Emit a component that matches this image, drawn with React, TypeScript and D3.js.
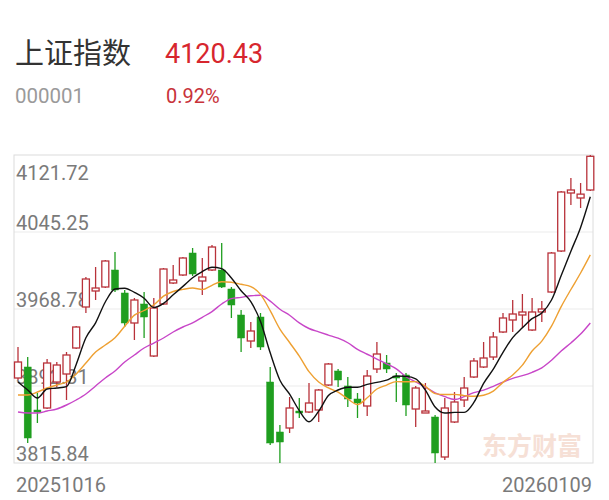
import React from 'react';
import * as d3 from 'd3';

const TITLE = '上证指数';
const CODE = '000001';
const LAST = '4120.43';
const CHANGE = '0.92%';
const WATERMARK = '东方财富';
const DATE_LABELS = ['20251016', '20260109'];
const Y_TICKS = [4121.72, 4045.25, 3968.78, 3892.31, 3815.84];

const OPEN = [3900.25, 3911.18, 3868.47, 3870.46, 3896.28, 3904.23, 3930.05, 3970.77, 3986.66, 3990.63,
  4007.51, 3984.67, 3954.88, 3973.75, 3922.10, 3973.75, 3994.60, 4002.55, 4024.39, 3996.59,
  4007.51, 4007.51, 3988.64, 3962.82, 3937.00, 3960.83, 3896.28, 3846.63, 3850.60, 3867.48,
  3866.49, 3868.47, 3893.30, 3907.21, 3892.31, 3879.40, 3872.45, 3909.19, 3915.15, 3902.24,
  3903.23, 3869.47, 3865.50, 3861.52, 3821.80, 3856.56, 3878.41, 3901.25, 3911.18, 3921.11,
  3945.94, 3957.86, 3962.82, 3947.92, 3965.80, 3985.66, 4026.38, 4083.98, 4079.02, 4086.96];
const HIGH = [3931.04, 3921.11, 3885.36, 3919.12, 3916.14, 3926.08, 3951.90, 4000.56, 4010.49, 4017.44,
  4025.39, 3987.65, 3979.70, 3985.66, 3979.70, 4009.50, 4012.48, 4020.42, 4029.36, 4019.43,
  4032.34, 4034.33, 3990.63, 3967.79, 3955.87, 3964.81, 3911.18, 3853.58, 3881.38, 3880.39,
  3895.29, 3889.33, 3915.15, 3909.19, 3901.25, 3885.36, 3908.20, 3936.01, 3923.10, 3905.22,
  3905.22, 3892.31, 3895.29, 3863.51, 3880.39, 3886.35, 3901.25, 3920.12, 3936.01, 3945.94,
  3964.81, 3977.72, 3983.68, 3979.70, 3976.72, 4025.39, 4085.97, 4098.88, 4093.91, 4121.72];
const LOW = [3898.27, 3835.70, 3855.56, 3869.47, 3891.32, 3878.41, 3929.05, 3964.81, 3977.72, 3989.64,
  3985.66, 3950.90, 3937.99, 3939.98, 3921.11, 3972.75, 3993.61, 4001.55, 4001.55, 3982.68,
  4006.52, 3989.64, 3959.84, 3926.08, 3930.05, 3928.06, 3833.72, 3815.84, 3845.63, 3860.53,
  3865.50, 3856.56, 3892.31, 3891.32, 3871.45, 3860.53, 3862.52, 3905.22, 3905.22, 3876.42,
  3862.52, 3851.59, 3865.50, 3815.84, 3818.82, 3855.56, 3871.45, 3900.25, 3910.19, 3918.13,
  3944.94, 3945.94, 3949.91, 3946.93, 3955.87, 3984.67, 4025.39, 4072.06, 4069.08, 4085.97];
const CLOSE = [3916.14, 3840.67, 3866.49, 3915.15, 3913.16, 3923.10, 3950.90, 3998.57, 3989.64, 4016.45,
  3987.65, 3954.88, 3977.72, 3960.83, 3969.77, 4008.50, 3997.58, 4019.43, 4003.54, 4000.56,
  4030.35, 3990.63, 3972.75, 3939.98, 3946.93, 3931.04, 3835.70, 3836.69, 3870.46, 3865.50,
  3875.43, 3888.34, 3914.16, 3898.27, 3879.40, 3875.43, 3902.24, 3924.09, 3909.19, 3900.25,
  3873.44, 3890.32, 3867.48, 3825.77, 3870.46, 3876.42, 3890.32, 3917.14, 3920.12, 3940.97,
  3959.84, 3963.81, 3965.80, 3965.80, 3968.78, 4024.39, 4084.97, 4086.96, 4082.87, 4120.43];

const MA5 = [3896.28, 3888.34, 3880.39, 3889.33, 3890.32, 3891.71, 3913.76, 3940.18, 3955.07, 3975.73,
  3988.64, 3989.44, 3985.27, 3979.51, 3970.17, 3974.34, 3982.88, 3991.22, 3999.76, 4005.92,
  4010.29, 4008.90, 3999.57, 3986.85, 3976.13, 3956.27, 3925.28, 3898.07, 3884.17, 3867.88,
  3856.76, 3867.28, 3882.78, 3888.34, 3891.12, 3891.12, 3893.90, 3895.88, 3898.07, 3902.24,
  3901.84, 3899.46, 3888.14, 3871.45, 3865.50, 3866.09, 3866.09, 3876.02, 3894.89, 3908.99,
  3925.68, 3940.38, 3950.11, 3959.25, 3964.81, 3977.72, 4001.95, 4026.18, 4049.82, 4080.21];
const MA10 = [3883.37, 3883.37, 3886.35, 3890.32, 3893.30, 3896.28, 3904.23, 3915.15, 3926.08, 3933.03,
  3940.18, 3951.60, 3962.72, 3967.29, 3972.95, 3981.49, 3986.16, 3988.24, 3989.64, 3988.05,
  3992.32, 3995.89, 3995.40, 3993.31, 3991.03, 3983.28, 3967.09, 3948.82, 3935.51, 3922.00,
  3906.51, 3896.28, 3890.42, 3886.25, 3879.50, 3873.94, 3880.59, 3889.33, 3893.20, 3896.68,
  3896.48, 3896.68, 3892.01, 3884.76, 3883.87, 3883.97, 3882.78, 3882.08, 3883.17, 3887.24,
  3895.88, 3903.23, 3913.07, 3927.07, 3936.90, 3951.70, 3971.16, 3988.15, 4004.53, 4022.51];
const MA20 = [3866.49, 3865.50, 3865.50, 3867.48, 3869.47, 3873.44, 3878.41, 3884.36, 3892.31, 3900.25,
  3907.21, 3916.14, 3923.10, 3930.05, 3935.01, 3939.98, 3945.94, 3950.90, 3954.88, 3960.54,
  3966.25, 3973.75, 3979.06, 3980.30, 3981.99, 3982.39, 3976.63, 3968.53, 3962.57, 3955.02,
  3949.41, 3946.09, 3942.91, 3939.78, 3935.26, 3928.61, 3923.84, 3919.07, 3914.36, 3909.34,
  3901.50, 3896.48, 3891.22, 3885.51, 3881.68, 3878.95, 3881.68, 3885.71, 3888.19, 3891.96,
  3896.18, 3899.96, 3902.54, 3905.92, 3910.38, 3917.83, 3926.97, 3935.11, 3943.85, 3954.88];

const W = 609;
const H = 500;
const BOX = { left: 14, right: 593, top: 155, bottom: 463 };
const UP = '#b8323a';
const DOWN = '#1f9e1f';
const NUM_FONT = 'Roboto, "Noto Sans", sans-serif';
const CJK_FONT = '"Noto Sans CJK SC", "Noto Sans", sans-serif';

export default function App() {
  const idx = d3.range(CLOSE.length);
  const x = d3.scaleLinear().domain([0, CLOSE.length - 1]).range([18, 590.3]);
  const y = d3.scaleLinear().domain([Y_TICKS[Y_TICKS.length - 1], Y_TICKS[0]]).range([BOX.bottom, BOX.top]);
  const bw = 7;
  const mkLine = (arr: number[]) =>
    d3.line<number>().x((_, i) => x(i)).y((d) => y(d)).curve(d3.curveMonotoneX)(arr) || '';

  return (
    <svg width={W} height={H} style={{ position: 'absolute', left: 0, top: 0, background: '#fff' }}>
      <rect x={0} y={0} width={W} height={H} fill="#fff" />
      {/* header */}
      <text x={15} y={64} fontFamily={CJK_FONT} fontSize={29} fill="#333">{TITLE}</text>
      <text x={165} y={63} fontFamily={NUM_FONT} fontSize={27} fill="#d7262e">{LAST}</text>
      <text x={15} y={102.5} fontFamily={NUM_FONT} fontSize={20.5} fill="#9a9a9a">{CODE}</text>
      <text x={166} y={102.5} fontFamily={NUM_FONT} fontSize={20} fill="#c8323a">{CHANGE}</text>

      {/* grid */}
      {Y_TICKS.slice(1, -1).map((v) => (
        <line key={v} x1={BOX.left} x2={BOX.right} y1={y(v)} y2={y(v)} stroke="#ebebeb" strokeWidth={1} />
      ))}
      <rect x={BOX.left} y={BOX.top} width={BOX.right - BOX.left} height={BOX.bottom - BOX.top}
        fill="none" stroke="#dcdcdc" strokeWidth={1} />

      {/* watermark */}
      <text x={482} y={455} fontFamily={CJK_FONT} fontWeight={700} fontSize={25} fill="#f6e0d6">{WATERMARK}</text>

      {/* y labels */}
      {Y_TICKS.map((v, i) => (
        <text key={v} x={16} y={i === 0 ? y(v) + 25 : y(v) - 2.5} fontFamily={NUM_FONT} fontSize={20}
          fill="#7a7a7a">{v.toFixed(2)}</text>
      ))}

      {/* candles */}
      {idx.map((i) => {
        const o = OPEN[i], c = CLOSE[i], h = HIGH[i], l = LOW[i];
        const cx = x(i);
        const up = c >= o;
        const top = y(Math.max(o, c));
        const bot = y(Math.min(o, c));
        const bh = Math.max(1, bot - top);
        if (up) {
          return (
            <g key={i}>
              <line x1={cx} x2={cx} y1={y(h)} y2={top} stroke={UP} strokeWidth={1.3} />
              <line x1={cx} x2={cx} y1={top + bh} y2={y(l)} stroke={UP} strokeWidth={1.3} />
              <rect x={cx - bw / 2} y={top} width={bw} height={bh} fill="#fff" stroke={UP} strokeWidth={1.3} />
            </g>
          );
        }
        return (
          <g key={i}>
            <line x1={cx} x2={cx} y1={y(h)} y2={y(l)} stroke={DOWN} strokeWidth={1.3} />
            <rect x={cx - bw / 2} y={top} width={bw} height={bh} fill={DOWN} stroke={DOWN} strokeWidth={0.5} />
          </g>
        );
      })}

      {/* moving averages */}
      <path d={mkLine(MA20)} fill="none" stroke="#c846c8" strokeWidth={1.4} />
      <path d={mkLine(MA10)} fill="none" stroke="#eea032" strokeWidth={1.4} />
      <path d={mkLine(MA5)} fill="none" stroke="#111" strokeWidth={1.4} />

      {/* dates */}
      <text x={16} y={492} fontFamily={NUM_FONT} fontSize={20} fill="#7a7a7a">{DATE_LABELS[0]}</text>
      <text x={592} y={492} textAnchor="end" fontFamily={NUM_FONT} fontSize={20} fill="#7a7a7a">{DATE_LABELS[1]}</text>
    </svg>
  );
}
